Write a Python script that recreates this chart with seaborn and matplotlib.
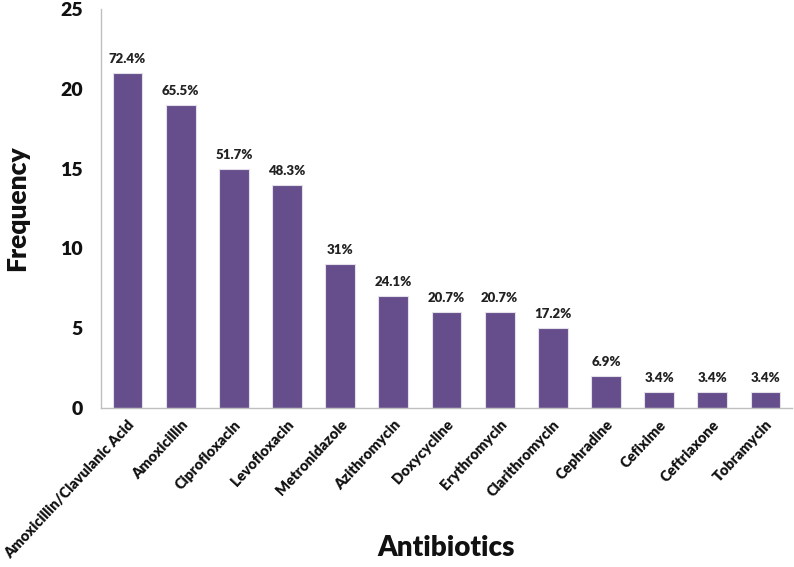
import matplotlib
matplotlib.use("Agg")
import matplotlib.pyplot as plt
import seaborn as sns
import pandas as pd

antibiotics = ["Amoxicillin/Clavulanic Acid", "Amoxicillin", "Ciprofloxacin", "Levofloxacin",
               "Metronidazole", "Azithromycin", "Doxycycline", "Erythromycin", "Clarithromycin",
               "Cephradine", "Cefixime", "Ceftriaxone", "Tobramycin"]
frequency = [21, 19, 15, 14, 9, 7, 6, 6, 5, 2, 1, 1, 1]
percent_labels = ["72.4%", "65.5%", "51.7%", "48.3%", "31%", "24.1%", "20.7%", "20.7%",
                  "17.2%", "6.9%", "3.4%", "3.4%", "3.4%"]
y_ticks = [0, 5, 10, 15, 20, 25]

df = pd.DataFrame({"Antibiotics": antibiotics, "Frequency": frequency})

sns.set_theme(style="white")
plt.rcParams["font.family"] = ["Lato", "DejaVu Sans"]

fig = plt.figure(figsize=(7.94, 5.67), dpi=100)
ax = fig.add_axes([101/794, 1-408/567, (792-101)/794, (408-9)/567])

sns.barplot(data=df, x="Antibiotics", y="Frequency", color="#664E8C", saturation=1,
            width=0.56, edgecolor="#E4E0EA", linewidth=0.8, ax=ax)

for i, (v, lab) in enumerate(zip(frequency, percent_labels)):
    ax.text(i, v + 0.5, lab, ha="center", va="bottom", fontsize=9.5, fontweight="heavy", color="#222222")

ax.set_ylim(0, 25)
ax.set_xlim(-0.5, len(antibiotics) - 0.5)
ax.set_yticks(y_ticks)
ax.set_yticklabels([str(t) for t in y_ticks], fontsize=14, fontweight="heavy", color="#111111")
ax.set_xticks(range(len(antibiotics)))
ax.set_xticklabels(antibiotics, rotation=47, ha="right", rotation_mode="anchor",
                   fontsize=10.5, fontweight="heavy", color="#111111")
ax.tick_params(axis="y", length=0, pad=13)
ax.tick_params(axis="x", length=0, pad=7)

for s in ["top", "right"]:
    ax.spines[s].set_visible(False)
for s in ["left", "bottom"]:
    ax.spines[s].set_color("#BFBFBF")
    ax.spines[s].set_linewidth(1.0)

ax.set_ylabel("Frequency", fontsize=19, fontweight="heavy", color="#111111")
ax.yaxis.set_label_coords(-(101-29)/691, 0.5)
ax.set_xlabel("Antibiotics", fontsize=20, fontweight="heavy", color="#111111")
ax.xaxis.set_label_coords((446-101)/691, -(535-408)/399)

fig.savefig("out.png", dpi=100)
